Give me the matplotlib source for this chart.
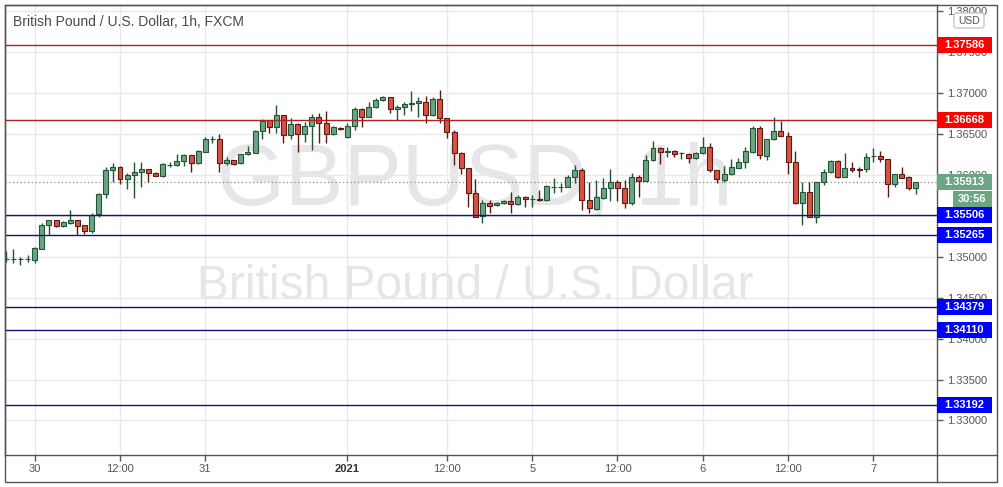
import matplotlib.pyplot as plt
from matplotlib.patches import Rectangle, FancyBboxPatch
import matplotlib.transforms as mtrans
from matplotlib.lines import Line2D
import numpy as np

# GBPUSD 1h candles, first bar = 29 Dec 20:00 (index -4), 0 = 30 Dec 00:00
opens = [1.34967, 1.34967, 1.34967, 1.34967, 1.34958, 1.35096, 1.35381, 1.35442, 1.35369, 1.35413,
         1.35442, 1.35381, 1.35316, 1.35516, 1.35760, 1.36052, 1.36089, 1.35943, 1.35991, 1.36028,
         1.36065, 1.36020, 1.35979, 1.36113, 1.36113, 1.36166, 1.36235, 1.36138, 1.36279, 1.36430,
         1.36434, 1.36147, 1.36178, 1.36138, 1.36248, 1.36267, 1.36532, 1.36666, 1.36577, 1.36727,
         1.36483, 1.36617, 1.36495, 1.36593, 1.36699, 1.36626, 1.36495, 1.36568, 1.36455, 1.36593,
         1.36797, 1.36706, 1.36821, 1.36910, 1.36943, 1.36797, 1.36828, 1.36858, 1.36870, 1.36889,
         1.36727, 1.36922, 1.36687, 1.36523, 1.36260, 1.36077, 1.35772, 1.35495, 1.35650, 1.35625,
         1.35650, 1.35678, 1.35641, 1.35723, 1.35702, 1.35706, 1.35690, 1.35852, 1.35852, 1.35852,
         1.35967, 1.36056, 1.35690, 1.35580, 1.35718, 1.35840, 1.35910, 1.35833, 1.35657, 1.35974,
         1.35925, 1.36178, 1.36321, 1.36272, 1.36288, 1.36263, 1.36251, 1.36199, 1.36260, 1.36333,
         1.36056, 1.35934, 1.36007, 1.36084, 1.36150, 1.36279, 1.36565, 1.36230, 1.36430, 1.36535,
         1.36474, 1.36150, 1.35650, 1.35784, 1.35486, 1.35906, 1.36035, 1.36166, 1.35974, 1.36077,
         1.36068, 1.36065, 1.36223, 1.36223, 1.36187, 1.35882, 1.36007, 1.35967, 1.35833]
highs = [1.35071, 1.35089, 1.34991, 1.35019, 1.35120, 1.35413, 1.35446, 1.35452, 1.35434, 1.35568,
         1.35452, 1.35385, 1.35528, 1.35779, 1.36096, 1.36138, 1.36105, 1.36016, 1.36150, 1.36157,
         1.36072, 1.36026, 1.36145, 1.36150, 1.36251, 1.36251, 1.36239, 1.36294, 1.36462, 1.36475,
         1.36492, 1.36211, 1.36184, 1.36257, 1.36352, 1.36544, 1.36678, 1.36672, 1.36849, 1.36733,
         1.36687, 1.36626, 1.36645, 1.36739, 1.36755, 1.36780, 1.36587, 1.36575, 1.36626, 1.36821,
         1.36809, 1.36882, 1.36931, 1.36962, 1.36950, 1.36849, 1.36890, 1.37020, 1.36950, 1.36959,
         1.36950, 1.37032, 1.36690, 1.36544, 1.36279, 1.36080, 1.35943, 1.35690, 1.35690, 1.35666,
         1.35684, 1.35791, 1.35751, 1.35733, 1.35751, 1.35812, 1.35873, 1.35955, 1.35894, 1.35995,
         1.36117, 1.36077, 1.35913, 1.35934, 1.35955, 1.36065, 1.35934, 1.35934, 1.36023, 1.35995,
         1.36239, 1.36413, 1.36333, 1.36340, 1.36300, 1.36279, 1.36260, 1.36279, 1.36462, 1.36389,
         1.36062, 1.36105, 1.36187, 1.36199, 1.36333, 1.36593, 1.36593, 1.36440, 1.36706, 1.36657,
         1.36523, 1.36291, 1.35913, 1.35913, 1.35913, 1.36065, 1.36178, 1.36178, 1.36260, 1.36157,
         1.36096, 1.36267, 1.36328, 1.36288, 1.36190, 1.36007, 1.36096, 1.35983, 1.35913]
lows = [1.34937, 1.34918, 1.34897, 1.34937, 1.34918, 1.35089, 1.35263, 1.35360, 1.35360, 1.35403,
        1.35263, 1.35272, 1.35291, 1.35486, 1.35711, 1.35913, 1.35882, 1.35824, 1.35711, 1.35845,
        1.35906, 1.35977, 1.35974, 1.36089, 1.36108, 1.36108, 1.36035, 1.36129, 1.36272, 1.36382,
        1.36032, 1.36117, 1.36123, 1.36129, 1.36239, 1.36260, 1.36430, 1.36504, 1.36504, 1.36382,
        1.36430, 1.36279, 1.36401, 1.36300, 1.36382, 1.36382, 1.36483, 1.36546, 1.36443, 1.36544,
        1.36584, 1.36699, 1.36809, 1.36901, 1.36748, 1.36666, 1.36727, 1.36779, 1.36706, 1.36633,
        1.36715, 1.36633, 1.36443, 1.36117, 1.36007, 1.35608, 1.35483, 1.35406, 1.35528, 1.35617,
        1.35641, 1.35528, 1.35629, 1.35608, 1.35608, 1.35678, 1.35681, 1.35779, 1.35791, 1.35845,
        1.35901, 1.35568, 1.35528, 1.35568, 1.35706, 1.35681, 1.35678, 1.35589, 1.35629, 1.35730,
        1.35918, 1.36169, 1.36129, 1.36218, 1.36218, 1.36187, 1.36138, 1.36187, 1.36251, 1.36035,
        1.35901, 1.35913, 1.35995, 1.36077, 1.36077, 1.36260, 1.36190, 1.36178, 1.36422, 1.36470,
        1.36007, 1.35641, 1.35385, 1.35479, 1.35406, 1.35873, 1.36023, 1.35955, 1.35967, 1.36035,
        1.35967, 1.36035, 1.36157, 1.36157, 1.35723, 1.35852, 1.35955, 1.35812, 1.35763]
closes = [1.34967, 1.34967, 1.34967, 1.34967, 1.35101, 1.35381, 1.35442, 1.35369, 1.35422, 1.35446,
          1.35377, 1.35316, 1.35507, 1.35767, 1.36052, 1.36089, 1.35943, 1.35991, 1.36028, 1.36065,
          1.36016, 1.35983, 1.36129, 1.36123, 1.36166, 1.36239, 1.36138, 1.36284, 1.36434, 1.36434,
          1.36141, 1.36178, 1.36135, 1.36248, 1.36272, 1.36532, 1.36654, 1.36577, 1.36727, 1.36483,
          1.36617, 1.36495, 1.36593, 1.36699, 1.36626, 1.36495, 1.36577, 1.36553, 1.36593, 1.36797,
          1.36706, 1.36821, 1.36910, 1.36950, 1.36797, 1.36828, 1.36858, 1.36877, 1.36898, 1.36727,
          1.36922, 1.36687, 1.36523, 1.36260, 1.36077, 1.35772, 1.35486, 1.35650, 1.35621, 1.35650,
          1.35678, 1.35638, 1.35730, 1.35699, 1.35702, 1.35690, 1.35861, 1.35852, 1.35852, 1.35967,
          1.36056, 1.35690, 1.35589, 1.35723, 1.35840, 1.35910, 1.35833, 1.35657, 1.35974, 1.35925,
          1.36178, 1.36321, 1.36272, 1.36288, 1.36251, 1.36263, 1.36199, 1.36267, 1.36333, 1.36056,
          1.35943, 1.36007, 1.36089, 1.36150, 1.36288, 1.36565, 1.36239, 1.36430, 1.36535, 1.36474,
          1.36150, 1.35650, 1.35784, 1.35486, 1.35906, 1.36035, 1.36166, 1.35974, 1.36077, 1.36056,
          1.36060, 1.36218, 1.36223, 1.36187, 1.35882, 1.36004, 1.35962, 1.35833, 1.35913]

time_ticks = [0, 12, 24, 44, 58, 70, 82, 94, 106, 118]
time_labels = ["30", "12:00", "31", "2021", "12:00", "5", "12:00", "6", "12:00", "7"]

red_levels = [1.37586, 1.36668]
blue_levels = [1.35506, 1.35265, 1.34379, 1.34110, 1.33192]
last_price = 1.35913
countdown = "30:56"

W, H = 1004, 487
FONT = "Liberation Sans"
UP, UP_EDGE = "#6ba583", "#225437"
DN, DN_EDGE = "#d75442", "#5b1a13"

fig = plt.figure(figsize=(W / 100, H / 100), dpi=100)
ax = fig.add_axes([5 / W, 32 / H, 932 / W, 450 / H])
ymin, ymax = 1.32579, 1.38069
ax.set_xlim(-4.18, 126.96)
ax.set_ylim(ymin, ymax)
unit_per_px = (ymax - ymin) / 450

o = np.array(opens)
h = np.array(highs)
l = np.array(lows)
c = np.array(closes)
xs = np.arange(len(o)) - 4
up = c >= o

for mask, fill, edge in [(up, UP, UP_EDGE), (~up, DN, DN_EDGE)]:
    ax.vlines(xs[mask], l[mask], h[mask], color=edge, lw=1, zorder=3)
    ax.bar(xs[mask], (c - o)[mask], bottom=o[mask], width=0.7, color=fill,
           edgecolor=edge, linewidth=0.8, zorder=4)

# watermark
ax.text(0.5043, 0.605, "GBPUSD, 1h", transform=ax.transAxes, ha="center", va="center",
        fontsize=63, color="#e6e6e8", family=FONT, zorder=1)
ax.text(0.5043, 0.375, "British Pound / U.S. Dollar", transform=ax.transAxes, ha="center",
        va="center", fontsize=34.5, color="#e6e6e8", family=FONT, zorder=1)

# grid
yt = np.arange(1.330, 1.38001, 0.005)
ax.set_yticks(yt)
# 1.35500 sits fully under the 1.35506 tag, so its label is left blank
ax.set_yticklabels(["" if abs(v - 1.355) < 1e-6 else f"{v:.5f}" for v in yt])
ax.set_xticks(time_ticks)
ax.set_xticklabels(time_labels)
ax.grid(True, color="#e9e9ea", lw=1, zorder=0)
ax.yaxis.tick_right()
ax.tick_params(axis="both", direction="out", length=4, width=1, color="#555555",
               labelcolor="#555555", labelsize=8)
ax.tick_params(axis="y", pad=3)
ax.tick_params(axis="x", pad=2.5)
for t in ax.get_xticklabels() + ax.get_yticklabels():
    t.set_family(FONT)
for t in ax.get_xticklabels():
    if t.get_text() == "2021":
        t.set_fontweight("bold")
        t.set_color("#333333")
for s in ax.spines.values():
    s.set_color("#555555")
    s.set_linewidth(1)

# level lines and price boxes
trans = mtrans.blended_transform_factory(ax.transAxes, ax.transData)
box_w = 55 / 932
box_h = 16 * unit_per_px


def price_box(y, text, fc, x0=1.0, w=box_w):
    ax.add_patch(Rectangle((x0, y - box_h / 2), w, box_h, transform=trans, fc=fc,
                           ec="none", clip_on=False, zorder=6))
    ax.text(x0 + w / 2, y, text, transform=trans, ha="center", va="center",
            color="white", fontsize=8, fontweight="bold", family=FONT,
            clip_on=False, zorder=7)


for lv in red_levels:
    ax.axhline(lv, color="#b41f1f", lw=1, zorder=5)
    price_box(lv, f"{lv:.5f}", "#ff0000")
for lv in blue_levels:
    ax.axhline(lv, color="#13137a", lw=1, zorder=5)
    price_box(lv, f"{lv:.5f}", "#0000ff")

ax.axhline(last_price, color="#8a8a8a", lw=0.9, ls=(0, (1, 2)), zorder=2)
price_box(last_price, f"{last_price:.5f}", UP)
price_box(last_price - box_h - 1 * unit_per_px, countdown, UP, x0=1 + 16 / 932, w=39 / 932)

# frame pieces outside the axes
fig.add_artist(Rectangle((5 / W, 5 / H), 992 / W, 477 / H, transform=fig.transFigure,
                         fill=False, ec="#555555", lw=1))
fig.add_artist(Line2D([937 / W, 937 / W], [5 / H, 32 / H], transform=fig.transFigure,
                      color="#555555", lw=1))
fig.add_artist(Line2D([937 / W, 997 / W], [32 / H, 32 / H], transform=fig.transFigure,
                      color="#555555", lw=1))

# currency tag
fig.add_artist(FancyBboxPatch((954 / W, 1 - 28 / H), 30 / W, 15 / H,
                              boxstyle="round,pad=0,rounding_size=0.004",
                              transform=fig.transFigure, fc="white", ec="#c8c8c8", lw=1))
fig.text(969 / W, 1 - 20.5 / H, "USD", ha="center", va="center", fontsize=7.5,
         color="#555555", family=FONT)

fig.text(13 / W, 1 - 22 / H, "British Pound / U.S. Dollar, 1h, FXCM", ha="left",
         va="center", fontsize=10, color="#4a4a4a", family=FONT)

fig.savefig("out.png", dpi=100)
